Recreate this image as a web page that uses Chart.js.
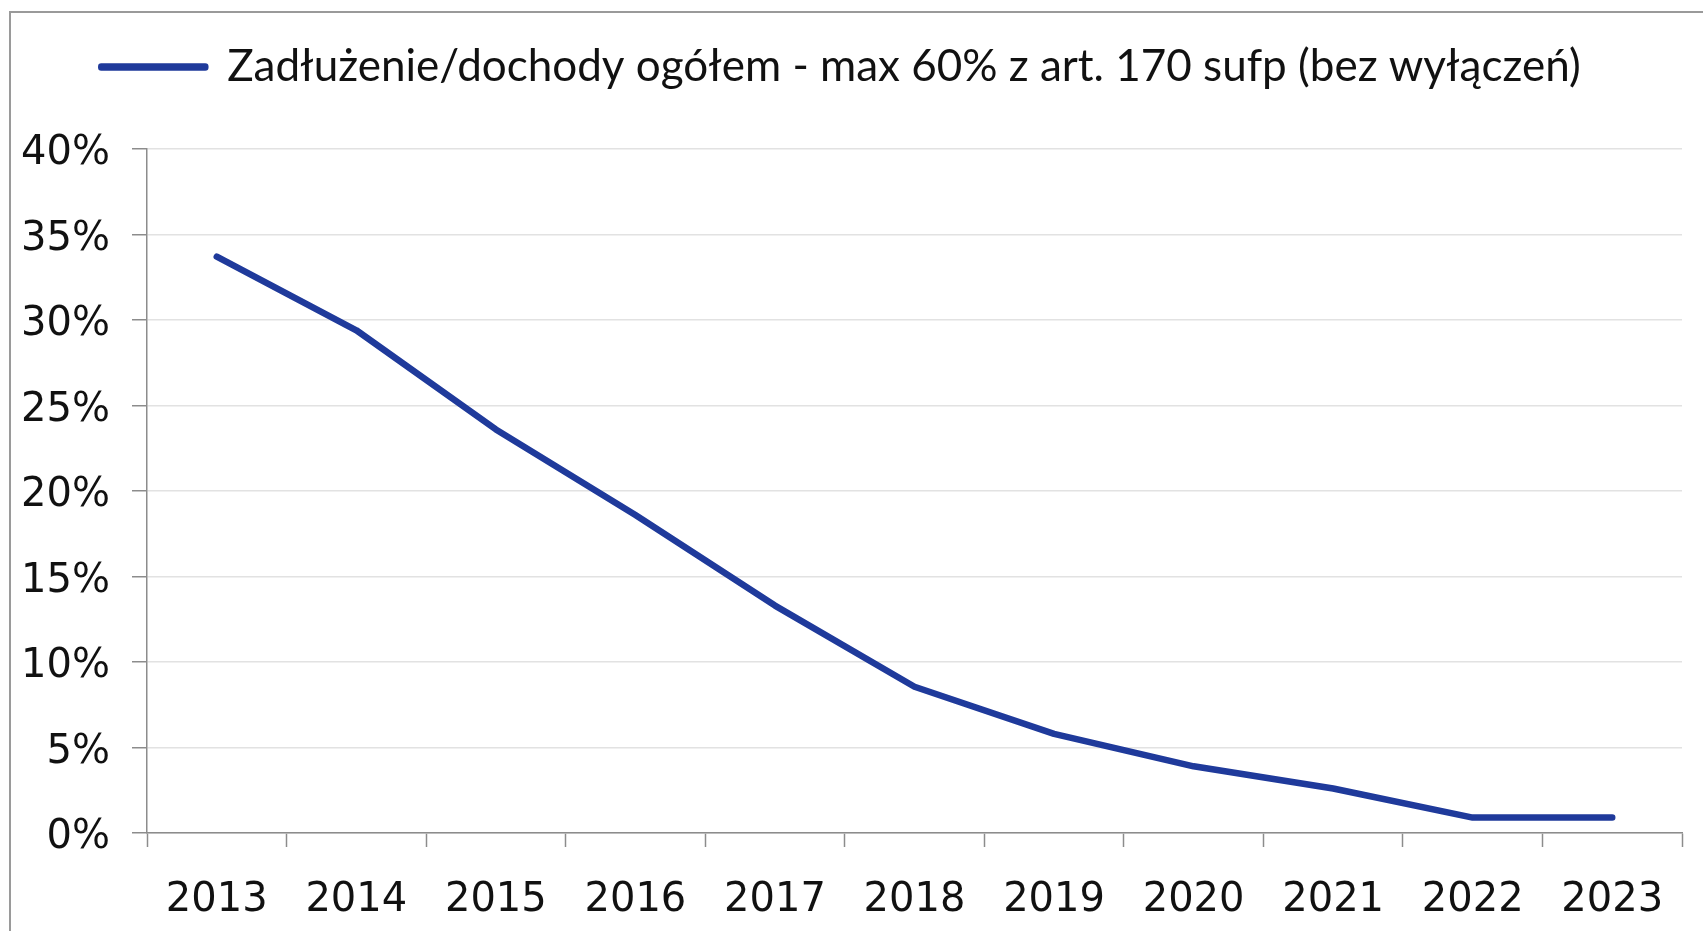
<!DOCTYPE html>
<html>
<head>
<meta charset="utf-8">
<title>Zadłużenie/dochody ogółem</title>
<script src="https://cdn.jsdelivr.net/npm/chart.js@4.4.0/dist/chart.umd.min.js"></script>
<style>
  html, body { margin: 0; padding: 0; background: #fff; overflow: hidden; }
  #frame {
    position: absolute; left: 9px; top: 11px; width: 1800px; height: 1000px;
    border-left: 2px solid #9a9a9a; border-top: 2px solid #9a9a9a;
  }
  #myChart { position: absolute; left: 0; top: 0; }
</style>
</head>
<body>
<div id="frame"></div>
<canvas id="myChart" width="1703" height="931"></canvas>
<script>
const years = ["2013", "2014", "2015", "2016", "2017", "2018", "2019", "2020", "2021", "2022", "2023"];
const debtRatio = [33.7, 29.4, 23.6, 18.6, 13.3, 8.55, 5.8, 3.9, 2.6, 0.9, 0.9];
const seriesName = "Zadłużenie/dochody ogółem - max 60% z art. 170 sufp (bez wyłączeń)";
const yMin = 0;
const yMax = 40;
const yStep = 5;

const lineColor = "#1f3a9b";
const tickFont = { family: "DejaVu Sans", size: 40 };

// push the plot area down below the legend
const legendGap = {
  id: "legendGap",
  beforeInit(chart) {
    const fit = chart.legend.fit;
    chart.legend.fit = function () {
      fit.call(this);
      this.height += 50;
    };
  },
};

new Chart(document.getElementById("myChart"), {
  type: "line",
  data: {
    labels: years,
    datasets: [
      {
        label: seriesName,
        data: debtRatio,
        borderColor: lineColor,
        backgroundColor: lineColor,
        borderWidth: 6.5,
        borderCapStyle: "round",
        borderJoinStyle: "round",
        pointRadius: 0,
        tension: 0,
      },
    ],
  },
  options: {
    responsive: false,
    animation: false,
    devicePixelRatio: 1,
    layout: {
      padding: { top: 35, right: 21, left: 0, bottom: 0 },
    },
    plugins: {
      legend: {
        position: "top",
        labels: {
          boxWidth: 104,
          boxHeight: 1,
          padding: 10,
          color: "#111",
          font: { family: "Lato", size: 44 },
        },
      },
      tooltip: { enabled: false },
    },
    scales: {
      x: {
        type: "category",
        offset: true,
        grid: {
          offset: true,
          drawOnChartArea: false,
          tickLength: 14,
          tickColor: "#8c8c8c",
          tickWidth: 1.5,
        },
        border: { color: "#8c8c8c", width: 1.5 },
        ticks: {
          color: "#111",
          font: tickFont,
          padding: 30,
          maxRotation: 0,
          autoSkip: false,
        },
        afterFit(scale) {
          scale.height = 98;
        },
      },
      y: {
        min: yMin,
        max: yMax,
        grid: {
          color: "#e2e2e2",
          lineWidth: 1.5,
          tickLength: 15,
          tickColor: "#8c8c8c",
        },
        border: { color: "#8c8c8c", width: 1.5 },
        ticks: {
          stepSize: yStep,
          color: "#111",
          font: tickFont,
          padding: 22,
          labelOffset: 5,
          callback: (v) => v + "%",
        },
        afterFit(scale) {
          scale.width = 147;
        },
      },
    },
  },
  plugins: [legendGap],
});
</script>
</body>
</html>
